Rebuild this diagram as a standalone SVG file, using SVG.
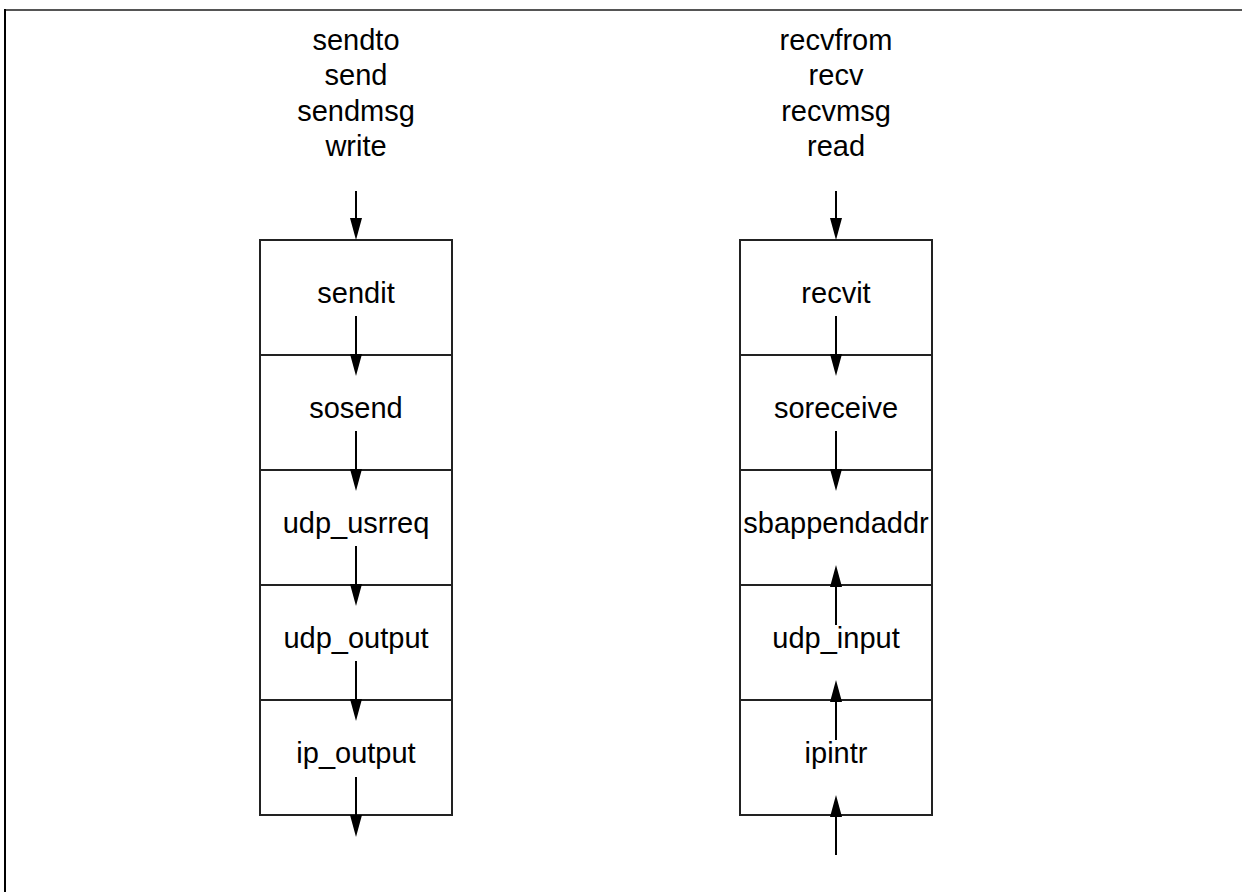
<svg xmlns="http://www.w3.org/2000/svg" width="1242" height="892" viewBox="0 0 1242 892">
  <style>
    text { font-family: "Liberation Sans", Arial, sans-serif; font-size: 29px; fill: #000; text-anchor: middle; }
    .cell { fill: #fff; stroke: #222; stroke-width: 2; }
    .flow { stroke: #000; stroke-width: 2; fill: none; marker-end: url(#head); }
  </style>
  <defs>
    <!-- filled arrowhead, 22 long and 12 wide; the line stops 10px short of the tip -->
    <marker id="head" markerUnits="userSpaceOnUse" markerWidth="22" markerHeight="12" refX="12" refY="6" orient="auto">
      <path d="M0,0 L22,6 L0,12 Z" fill="#000"/>
    </marker>
  </defs>
  <rect width="1242" height="892" fill="#fff"/>
  <!-- page frame -->
  <line x1="5" y1="10" x2="1242" y2="10" stroke="#555" stroke-width="2"/>
  <line x1="5" y1="9" x2="5" y2="892" stroke="#000" stroke-width="2"/>

  <!-- send side -->
  <g id="send-calls">
    <text x="356" y="49.5">sendto</text>
    <text x="356" y="85">send</text>
    <text x="356" y="120.5">sendmsg</text>
    <text x="356" y="156">write</text>
  </g>
  <g id="sendit"><rect class="cell" x="260" y="240" width="192" height="115"/><text x="356" y="303">sendit</text></g>
  <g id="sosend"><rect class="cell" x="260" y="355" width="192" height="115"/><text x="356" y="418">sosend</text></g>
  <g id="udp_usrreq"><rect class="cell" x="260" y="470" width="192" height="115"/><text x="356" y="533">udp_usrreq</text></g>
  <g id="udp_output"><rect class="cell" x="260" y="585" width="192" height="115"/><text x="356" y="648">udp_output</text></g>
  <g id="ip_output"><rect class="cell" x="260" y="700" width="192" height="115"/><text x="356" y="763">ip_output</text></g>

  <!-- receive side -->
  <g id="recv-calls">
    <text x="836" y="49.5">recvfrom</text>
    <text x="836" y="85">recv</text>
    <text x="836" y="120.5">recvmsg</text>
    <text x="836" y="156">read</text>
  </g>
  <g id="recvit"><rect class="cell" x="740" y="240" width="192" height="115"/><text x="836" y="303">recvit</text></g>
  <g id="soreceive"><rect class="cell" x="740" y="355" width="192" height="115"/><text x="836" y="418">soreceive</text></g>
  <g id="sbappendaddr"><rect class="cell" x="740" y="470" width="192" height="115"/><text x="836" y="533">sbappendaddr</text></g>
  <g id="udp_input"><rect class="cell" x="740" y="585" width="192" height="115"/><text x="836" y="648">udp_input</text></g>
  <g id="ipintr"><rect class="cell" x="740" y="700" width="192" height="115"/><text x="836" y="763">ipintr</text></g>

  <g id="connectors">
    <!-- send path, downward -->
    <line class="flow" x1="356" y1="191" x2="356" y2="230"/>
    <line class="flow" x1="356" y1="316" x2="356" y2="366"/>
    <line class="flow" x1="356" y1="431" x2="356" y2="481"/>
    <line class="flow" x1="356" y1="546" x2="356" y2="596"/>
    <line class="flow" x1="356" y1="661" x2="356" y2="711"/>
    <line class="flow" x1="356" y1="777" x2="356" y2="827"/>
    <!-- receive path -->
    <line class="flow" x1="836" y1="191" x2="836" y2="230"/>
    <line class="flow" x1="836" y1="316" x2="836" y2="366"/>
    <line class="flow" x1="836" y1="431" x2="836" y2="481"/>
    <line class="flow" x1="836" y1="625" x2="836" y2="575"/>
    <line class="flow" x1="836" y1="740" x2="836" y2="690"/>
    <line class="flow" x1="836" y1="855" x2="836" y2="805"/>
  </g>
</svg>
